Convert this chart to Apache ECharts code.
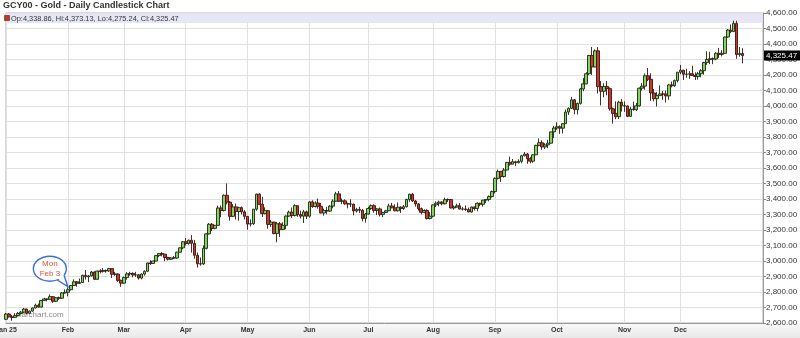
<!DOCTYPE html>
<html><head><meta charset="utf-8">
<script src="https://cdn.jsdelivr.net/npm/echarts@6/dist/echarts.min.js"></script>
<style>html,body{margin:0;padding:0;background:#fff}#c{width:800px;height:338px}</style>
</head><body><div id="c"></div>
<script>
const dates = [
'2025-01-02','2025-01-03','2025-01-06','2025-01-07','2025-01-08','2025-01-09','2025-01-10','2025-01-13','2025-01-14','2025-01-15','2025-01-16','2025-01-17','2025-01-21','2025-01-22','2025-01-23','2025-01-24','2025-01-27','2025-01-28','2025-01-29','2025-01-30','2025-01-31',
'2025-02-03','2025-02-04','2025-02-05','2025-02-06','2025-02-07','2025-02-10','2025-02-11','2025-02-12','2025-02-13','2025-02-14','2025-02-18','2025-02-19','2025-02-20','2025-02-21','2025-02-24','2025-02-25','2025-02-26','2025-02-27','2025-02-28',
'2025-03-03','2025-03-04','2025-03-05','2025-03-06','2025-03-07','2025-03-10','2025-03-11','2025-03-12','2025-03-13','2025-03-14','2025-03-17','2025-03-18','2025-03-19','2025-03-20','2025-03-21','2025-03-24','2025-03-25','2025-03-26','2025-03-27','2025-03-28','2025-03-31',
'2025-04-01','2025-04-02','2025-04-03','2025-04-04','2025-04-07','2025-04-08','2025-04-09','2025-04-10','2025-04-11','2025-04-14','2025-04-15','2025-04-16','2025-04-17','2025-04-21','2025-04-22','2025-04-23','2025-04-24','2025-04-25','2025-04-28','2025-04-29','2025-04-30',
'2025-05-01','2025-05-02','2025-05-05','2025-05-06','2025-05-07','2025-05-08','2025-05-09','2025-05-12','2025-05-13','2025-05-14','2025-05-15','2025-05-16','2025-05-19','2025-05-20','2025-05-21','2025-05-22','2025-05-23','2025-05-27','2025-05-28','2025-05-29','2025-05-30',
'2025-06-02','2025-06-03','2025-06-04','2025-06-05','2025-06-06','2025-06-09','2025-06-10','2025-06-11','2025-06-12','2025-06-13','2025-06-16','2025-06-17','2025-06-18','2025-06-20','2025-06-23','2025-06-24','2025-06-25','2025-06-26','2025-06-27','2025-06-30',
'2025-07-01','2025-07-02','2025-07-03','2025-07-07','2025-07-08','2025-07-09','2025-07-10','2025-07-11','2025-07-14','2025-07-15','2025-07-16','2025-07-17','2025-07-18','2025-07-21','2025-07-22','2025-07-23','2025-07-24','2025-07-25','2025-07-28','2025-07-29','2025-07-30','2025-07-31',
'2025-08-01','2025-08-04','2025-08-05','2025-08-06','2025-08-07','2025-08-08','2025-08-11','2025-08-12','2025-08-13','2025-08-14','2025-08-15','2025-08-18','2025-08-19','2025-08-20','2025-08-21','2025-08-22','2025-08-25','2025-08-26','2025-08-27','2025-08-28','2025-08-29',
'2025-09-02','2025-09-03','2025-09-04','2025-09-05','2025-09-08','2025-09-09','2025-09-10','2025-09-11','2025-09-12','2025-09-15','2025-09-16','2025-09-17','2025-09-18','2025-09-19','2025-09-22','2025-09-23','2025-09-24','2025-09-25','2025-09-26','2025-09-29','2025-09-30',
'2025-10-01','2025-10-02','2025-10-03','2025-10-06','2025-10-07','2025-10-08','2025-10-09','2025-10-10','2025-10-13','2025-10-14','2025-10-15','2025-10-16','2025-10-17','2025-10-20','2025-10-21','2025-10-22','2025-10-23','2025-10-24','2025-10-27','2025-10-28','2025-10-29','2025-10-30','2025-10-31',
'2025-11-03','2025-11-04','2025-11-05','2025-11-06','2025-11-07','2025-11-10','2025-11-11','2025-11-12','2025-11-13','2025-11-14','2025-11-17','2025-11-18','2025-11-19','2025-11-20','2025-11-21','2025-11-24','2025-11-25','2025-11-26','2025-11-28',
'2025-12-01','2025-12-02','2025-12-03','2025-12-04','2025-12-05','2025-12-08','2025-12-09','2025-12-10','2025-12-11','2025-12-12','2025-12-15','2025-12-16','2025-12-17','2025-12-18','2025-12-19','2025-12-22','2025-12-23','2025-12-24','2025-12-26','2025-12-29','2025-12-30','2025-12-31'
];
const padDates = ['2026-01-02','2026-01-05','2026-01-06','2026-01-07','2026-01-08','2026-01-09','2026-01-12'];
const monthLabels = ['Jan 25','Feb','Mar','Apr','May','Jun','Jul','Aug','Sep','Oct','Nov','Dec'];

const opens = [
2624,2658,2640,2636,2648,2661,2670,2690,2663,2677,2697,2715,2703,2745,2755,2753,2770,2740,2763,2760,2794,
2798,2815,2842,2866,2856,2861,2908,2898,2904,2929,2882,2935,2933,2939,2936,2951,2915,2916,2875,
2857,2893,2917,2920,2910,2911,2890,2916,2934,2987,2984,3000,3035,3048,3044,3023,3011,3020,3019,3057,3085,
3124,3113,3134,3114,3037,2982,2981,3082,3175,3237,3210,3230,3342,3326,3424,3380,3288,3349,3319,3344,3317,
3288,3238,3241,3334,3431,3366,3306,3325,3236,3251,3177,3240,3203,3230,3290,3315,3294,3357,3300,3289,3317,
3289,3381,3352,3374,3353,3310,3326,3322,3354,3386,3433,3385,3388,3369,3368,3367,3323,3333,3327,3274,
3303,3339,3357,3326,3336,3301,3313,3324,3355,3343,3324,3347,3339,3350,3397,3431,3387,3368,3337,3314,3326,3274,
3289,3362,3373,3380,3369,3396,3397,3342,3348,3356,3335,3336,3332,3316,3348,3339,3372,3366,3393,3397,3416,
3448,3533,3578,3545,3587,3636,3625,3641,3634,3643,3679,3690,3660,3644,3685,3746,3763,3736,3749,3760,3833,
3858,3866,3857,3886,3961,3985,4040,3976,4017,4110,4143,4208,4326,4252,4356,4125,4095,4126,4112,3982,3952,3931,4024,
4002,4000,3933,3980,3977,4001,4115,4128,4195,4172,4084,4047,4067,4078,4077,4065,4136,4131,4164,
4218,4231,4205,4206,4208,4197,4190,4208,4228,4280,4300,4305,4303,4340,4333,4340,4445,4490,4480,4533,4332,4338.86
];
const highs = [
2665,2665,2652,2664,2670,2678,2697,2692,2680,2700,2725,2725,2748,2763,2760,2785,2773,2765,2770,2800,2817,
2830,2845,2882,2870,2887,2911,2942,2910,2935,2932,2938,2947,2955,2945,2956,2952,2930,2920,2880,
2900,2928,2930,2927,2930,2915,2920,2940,2990,3005,3003,3038,3050,3058,3047,3027,3025,3032,3060,3087,3128,
3149,3138,3167,3136,3055,3023,3100,3180,3245,3245,3232,3357,3358,3430,3500,3386,3368,3371,3350,3352,3328,
3290,3269,3336,3435,3437,3414,3346,3330,3265,3253,3252,3252,3250,3295,3325,3345,3366,3358,3325,3330,3325,
3385,3392,3385,3403,3375,3338,3349,3360,3398,3446,3451,3403,3398,3376,3398,3370,3343,3350,3335,3310,
3350,3365,3366,3342,3345,3317,3330,3369,3375,3366,3377,3353,3361,3402,3434,3439,3394,3373,3345,3333,3334,3315,
3365,3385,3390,3385,3409,3404,3399,3358,3370,3374,3349,3358,3345,3350,3351,3378,3376,3394,3398,3423,3454,
3540,3590,3580,3600,3640,3674,3658,3647,3656,3685,3703,3697,3672,3688,3750,3791,3778,3760,3782,3835,3872,
3895,3875,3890,3977,3991,4059,4045,4022,4117,4180,4218,4330,4381,4365,4380,4161,4147,4161,4120,3990,4030,4034,4045,
4030,4003,3994,4028,4020,4120,4148,4210,4245,4211,4110,4090,4133,4097,4100,4143,4158,4171,4219,
4265,4233,4240,4225,4260,4217,4220,4237,4285,4353,4350,4313,4347,4375,4360,4448,4497,4526,4550,4550,4380,4373.13
];
const lows = [
2620,2635,2615,2633,2643,2656,2665,2656,2660,2673,2693,2700,2700,2742,2740,2750,2730,2735,2750,2755,2790,
2772,2810,2838,2834,2852,2858,2880,2864,2900,2878,2880,2920,2925,2925,2930,2890,2905,2865,2833,
2855,2880,2905,2895,2897,2880,2882,2905,2930,2975,2982,2998,3025,3030,2999,3003,3007,3012,3015,3055,3076,
3100,3105,3054,3015,2957,2970,2975,3075,3170,3193,3205,3228,3283,3320,3365,3260,3283,3268,3260,3301,3268,
3202,3223,3232,3324,3360,3284,3301,3208,3220,3172,3121,3154,3200,3205,3285,3278,3287,3285,3275,3245,3271,
3280,3343,3345,3338,3307,3292,3302,3316,3340,3383,3382,3366,3362,3340,3348,3295,3312,3310,3255,3247,
3299,3330,3311,3296,3287,3283,3310,3322,3341,3321,3319,3310,3330,3345,3383,3381,3351,3325,3301,3308,3268,3268,
3281,3348,3353,3359,3365,3381,3340,3331,3345,3332,3326,3323,3315,3312,3326,3321,3353,3351,3374,3385,3409,
3436,3526,3510,3538,3585,3615,3624,3612,3630,3631,3675,3627,3630,3633,3683,3740,3718,3722,3728,3758,3793,
3846,3820,3823,3885,3942,3980,3947,3945,4009,4095,4140,4199,4200,4250,4081,4004,4057,4069,3970,3886,3915,3916,3964,
3962,3928,3931,3970,3968,3995,4100,4105,4160,4033,4030,3997,4065,4040,4022,4040,4120,4123,4152,
4205,4168,4183,4175,4195,4168,4170,4185,4202,4265,4270,4270,4295,4310,4320,4338,4440,4470,4478,4305,4318,4275.24
];
const closes = [
2658,2640,2636,2648,2661,2670,2690,2663,2677,2697,2715,2703,2745,2755,2753,2770,2740,2763,2760,2794,2798,
2815,2842,2866,2856,2861,2908,2898,2904,2929,2882,2935,2933,2939,2936,2951,2915,2916,2875,2857,
2893,2917,2920,2910,2911,2890,2916,2934,2987,2984,3000,3035,3048,3044,3023,3011,3020,3019,3057,3085,3124,
3113,3134,3114,3037,2982,2981,3082,3175,3237,3210,3230,3342,3326,3424,3380,3288,3349,3319,3344,3317,3288,
3238,3241,3334,3431,3366,3306,3325,3236,3251,3177,3240,3203,3230,3290,3315,3294,3357,3300,3289,3317,3289,
3381,3352,3374,3353,3310,3326,3322,3354,3386,3433,3385,3388,3369,3368,3367,3323,3333,3327,3274,3303,
3339,3357,3326,3336,3301,3313,3324,3355,3343,3324,3347,3339,3350,3397,3431,3387,3368,3337,3314,3326,3274,3289,
3362,3373,3380,3369,3396,3397,3342,3348,3356,3335,3336,3332,3316,3348,3339,3372,3366,3393,3397,3416,3448,
3533,3578,3545,3587,3636,3625,3641,3634,3643,3679,3690,3660,3644,3685,3746,3763,3736,3749,3760,3833,3858,
3866,3857,3886,3961,3985,4040,3976,4017,4110,4143,4208,4326,4252,4356,4125,4095,4126,4112,3982,3952,3931,4024,4002,
4000,3933,3980,3977,4001,4115,4128,4195,4172,4084,4047,4067,4078,4077,4065,4136,4131,4164,4218,
4231,4205,4206,4208,4197,4190,4208,4228,4280,4300,4305,4303,4340,4333,4340,4445,4490,4480,4533,4332,4339,4325.47
];
const yMin = 2600, yMax = 4600, yStep = 100;
const calloutIndex = 21; // Mon Feb 3
const calloutLines = ['Mon', 'Feb 3'];
const titleText = 'GCY00 - Gold - Daily Candlestick Chart';

function fmt(v) {
  const s = Number(v).toFixed(2).split('.');
  return s[0].replace(/\B(?=(\d{3})+(?!\d))/g, ',') + '.' + s[1];
}
const cats = dates.concat(padDates);
const monthStart = new Set();
dates.forEach((d, i) => { if (i === 0 || d.slice(5, 7) !== dates[i - 1].slice(5, 7)) monthStart.add(i); });
const candle = dates.map((d, i) => [opens[i], closes[i], lows[i], highs[i]]);
const last = dates.length - 1;
const FONT = '"Liberation Sans", Arial, sans-serif';

const chart = echarts.init(document.getElementById('c'), null, { renderer: 'canvas' });
const G = { left: 6, right: 37, top: 13, bottom: 15 };
chart.setOption({
  animation: false,
  backgroundColor: '#fff',
  title: { text: titleText, left: 3, top: 1, padding: 0,
    textStyle: { fontSize: 9, fontWeight: 'bold', color: '#333', fontFamily: FONT } },
  grid: { left: G.left, right: G.right, top: G.top, bottom: G.bottom, containLabel: false, outerBoundsMode: 'none',
    show: true, borderColor: '#b4b4b4', borderWidth: 1, backgroundColor: 'transparent' },
  xAxis: {
    type: 'category', data: cats, boundaryGap: false,
    axisLine: { lineStyle: { color: '#999' } },
    axisTick: { show: false },
    axisLabel: {
      interval: (i) => monthStart.has(i),
      formatter: (v) => monthLabels[parseInt(v.slice(5, 7), 10) - 1],
      fontSize: 7, fontWeight: 'bold', color: '#333', margin: 4, fontFamily: FONT
    },
    splitLine: { show: true, interval: (i) => monthStart.has(i), lineStyle: { color: '#e0e0e0' } }
  },
  yAxis: {
    type: 'value', position: 'right', min: yMin, max: yMax, interval: yStep, scale: true,
    axisLine: { show: true, lineStyle: { color: '#999' } },
    axisTick: { show: true, length: 3, lineStyle: { color: '#888' } },
    axisLabel: { formatter: fmt, fontSize: 8, color: '#333', margin: 3, fontFamily: FONT },
    splitLine: { show: true, lineStyle: { color: '#e0e0e0' } }
  },
  series: [{
    type: 'candlestick', data: candle, barWidth: 3.2, z: 2,
    itemStyle: { color: '#7fd65a', color0: '#c43a2c', borderColor: '#1c2616', borderColor0: '#3e130f', borderWidth: 0.9 }
  }]
});

const tip = chart.convertToPixel({ gridIndex: 0 }, [calloutIndex, closes[calloutIndex]]);
const lp = chart.convertToPixel({ gridIndex: 0 }, [last, closes[last]]);
const tx = tip[0], ty = tip[1] - 3;
const cx = tx - 18, cy = ty - 18;
const plotW = 800 - G.left - G.right;
chart.setOption({
  graphic: [
    { type: 'rect', z: -1, shape: { x: 0, y: 338 - G.bottom, width: 800, height: G.bottom },
      style: { fill: new echarts.graphic.LinearGradient(0, 0, 0, 1, [{ offset: 0, color: '#fafafa' }, { offset: 1, color: '#e8e8e8' }]) }, silent: true },
    { type: 'rect', z: 1, shape: { x: G.left + 0.5, y: G.top + 0.5, width: plotW - 1, height: 9.5 }, style: { fill: '#e6e6f7' }, silent: true },
    { type: 'rect', z: 3, shape: { x: 4.5, y: 15.5, width: 5, height: 5 }, style: { fill: '#c4392c', stroke: '#5a1a14', lineWidth: 0.6 } },
    { type: 'text', z: 3, x: 11, y: 18.5, style: { text: 'Op:' + fmt(opens[last]) + ', Hi:' + fmt(highs[last]) + ', Lo:' + fmt(lows[last]) + ', Cl:' + fmt(closes[last]),
      font: '7.4px ' + FONT, fill: '#333', verticalAlign: 'middle' } },
    { type: 'text', z: 1, x: 17, y: 315, style: { text: 'barchart.com', font: '8px ' + FONT, fill: '#8a8a8a', verticalAlign: 'middle' } },
    { type: 'rect', z: 10, shape: { x: 764, y: lp[1] - 5, width: 36, height: 10 }, style: { fill: '#000' } },
    { type: 'text', z: 11, x: 766, y: lp[1], style: { text: fmt(closes[last]), font: '8px ' + FONT, fill: '#fff', verticalAlign: 'middle' } },
    { type: 'ellipse', z: 10, shape: { cx: cx, cy: cy, rx: 16.5, ry: 12.5 }, style: { fill: '#fff', stroke: '#3a6fe0', lineWidth: 1.4 } },
    { type: 'polygon', z: 11, shape: { points: [[cx + 7, cy + 9], [tx, ty], [cx + 13, cy + 4]] }, style: { fill: '#fff' } },
    { type: 'polyline', z: 12, shape: { points: [[cx + 7.5, cy + 11.3], [tx, ty], [cx + 14.2, cy + 6.5]] }, style: { stroke: '#3a6fe0', lineWidth: 1.4, fill: null } },
    { type: 'text', z: 13, x: cx, y: cy - 5, style: { text: calloutLines[0], font: '8px ' + FONT, fill: '#e0503c', align: 'center', verticalAlign: 'middle' } },
    { type: 'text', z: 13, x: cx, y: cy + 5, style: { text: calloutLines[1], font: '8px ' + FONT, fill: '#e0503c', align: 'center', verticalAlign: 'middle' } }
  ]
});
</script></body></html>
